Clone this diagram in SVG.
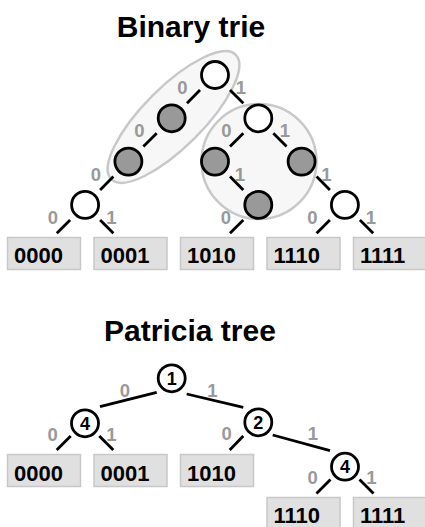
<svg xmlns="http://www.w3.org/2000/svg" width="425" height="527" viewBox="0 0 425 527">
<style>
.title{font-family:"Liberation Sans",Arial,sans-serif;font-weight:bold;font-size:30px;fill:#000;text-anchor:middle}
.lbl{font-family:"Liberation Sans",Arial,sans-serif;font-weight:bold;font-size:18.5px;fill:#999;text-anchor:middle}
.leaf rect{fill:#e0e0e0;stroke:#c8c8c8;stroke-width:1.5}
.leaf text{font-family:"Liberation Sans",Arial,sans-serif;font-weight:bold;font-size:22px;fill:#000}
.n{fill:#fff;stroke:#000;stroke-width:2.8}
.g{fill:#999;stroke:#000;stroke-width:2.8}
.num{font-family:"Liberation Sans",Arial,sans-serif;font-weight:bold;font-size:18px;fill:#000;text-anchor:middle}
.hl{fill:#f7f7f7;stroke:#c8c8c8;stroke-width:2.5}
#edges line{stroke:#000;stroke-width:2.8}
</style>
<rect width="425" height="527" fill="#fff"/>
<text class="title" x="191" y="37">Binary trie</text>
<text class="title" x="190" y="341">Patricia tree</text>

<!-- highlight regions -->
<ellipse class="hl" cx="173.5" cy="117" rx="88" ry="30" transform="rotate(-45 173.5 117)"/>
<circle class="hl" cx="259" cy="161.5" r="57.5"/>

<g id="edges">
<!-- binary trie -->
<line x1="200" y1="90" x2="187" y2="103.3"/>
<line x1="230" y1="90" x2="243.3" y2="103.3"/>
<line x1="156.7" y1="133.3" x2="143.4" y2="146.6"/>
<line x1="243.3" y1="133.3" x2="230" y2="146.6"/>
<line x1="273.3" y1="133.3" x2="286.6" y2="146.6"/>
<line x1="113.4" y1="176.6" x2="100.1" y2="189.9"/>
<line x1="230" y1="176.6" x2="243.3" y2="189.9"/>
<line x1="316.6" y1="176.6" x2="329.9" y2="189.9"/>
<line x1="70.1" y1="219.9" x2="56.8" y2="233.2"/>
<line x1="100.1" y1="219.9" x2="113.4" y2="233.2"/>
<line x1="243.3" y1="219.9" x2="230" y2="233.2"/>
<line x1="329.9" y1="219.9" x2="316.6" y2="233.2"/>
<line x1="359.9" y1="219.9" x2="373.2" y2="233.2"/>
<!-- patricia -->
<line x1="156.7" y1="392.3" x2="100" y2="406.7"/>
<line x1="186.7" y1="394" x2="243.3" y2="407.3"/>
<line x1="70.7" y1="436" x2="56.7" y2="450"/>
<line x1="99.3" y1="436" x2="113.3" y2="450"/>
<line x1="243.3" y1="436" x2="229.7" y2="450"/>
<line x1="272.7" y1="435" x2="330" y2="450.7"/>
<line x1="330.5" y1="479.5" x2="316.5" y2="493.5"/>
<line x1="359.5" y1="479.5" x2="373.5" y2="493.5"/>
</g>

<g id="edge-labels">
<text class="lbl" x="182.5" y="94">0</text>
<text class="lbl" x="241" y="94">1</text>
<text class="lbl" x="139.5" y="137">0</text>
<text class="lbl" x="226.5" y="137">0</text>
<text class="lbl" x="285" y="137">1</text>
<text class="lbl" x="96" y="180.5">0</text>
<text class="lbl" x="240" y="180.5">1</text>
<text class="lbl" x="326.5" y="180.5">1</text>
<text class="lbl" x="53" y="223.5">0</text>
<text class="lbl" x="111.5" y="223.5">1</text>
<text class="lbl" x="226" y="223.5">0</text>
<text class="lbl" x="312.5" y="223.5">0</text>
<text class="lbl" x="371" y="223.5">1</text>
<text class="lbl" x="125" y="396.5">0</text>
<text class="lbl" x="212.5" y="396.5">1</text>
<text class="lbl" x="52.7" y="440.5">0</text>
<text class="lbl" x="111.5" y="440.5">1</text>
<text class="lbl" x="226.7" y="439.5">0</text>
<text class="lbl" x="313" y="439.5">1</text>
<text class="lbl" x="312.7" y="483.5">0</text>
<text class="lbl" x="371.5" y="483.5">1</text>
</g>

<!-- binary trie nodes -->
<g id="b-root"><circle class="n" cx="215" cy="75" r="13.5"/></g>
<g id="b-0"><circle class="g" cx="171.7" cy="118.3" r="13.5"/></g>
<g id="b-1"><circle class="n" cx="258.3" cy="118.3" r="13.5"/></g>
<g id="b-00"><circle class="g" cx="128.4" cy="161.6" r="13.5"/></g>
<g id="b-10"><circle class="g" cx="215" cy="161.6" r="13.5"/></g>
<g id="b-11"><circle class="g" cx="301.6" cy="161.6" r="13.5"/></g>
<g id="b-000"><circle class="n" cx="85.1" cy="204.9" r="13.5"/></g>
<g id="b-101"><circle class="g" cx="258.3" cy="204.9" r="13.5"/></g>
<g id="b-111"><circle class="n" cx="344.9" cy="204.9" r="13.5"/></g>

<g id="b-leaf-0000" class="leaf"><rect x="7.5" y="237.5" width="73" height="32"/><text x="14" y="263">0000</text></g>
<g id="b-leaf-0001" class="leaf"><rect x="94" y="237.5" width="73" height="32"/><text x="100.5" y="263">0001</text></g>
<g id="b-leaf-1010" class="leaf"><rect x="180.5" y="237.5" width="73" height="32"/><text x="187" y="263">1010</text></g>
<g id="b-leaf-1110" class="leaf"><rect x="267" y="237.5" width="73" height="32"/><text x="273.5" y="263">1110</text></g>
<g id="b-leaf-1111" class="leaf"><rect x="353.5" y="237.5" width="73" height="32"/><text x="360" y="263">1111</text></g>

<!-- patricia nodes -->
<g id="p-root"><circle class="n" cx="171.7" cy="378.3" r="13.5"/><text class="num" x="171.7" y="384.8">1</text></g>
<g id="p-4a"><circle class="n" cx="85" cy="423.3" r="13.5"/><text class="num" x="85" y="429.8">4</text></g>
<g id="p-2"><circle class="n" cx="258.3" cy="422.3" r="13.5"/><text class="num" x="258.3" y="428.8">2</text></g>
<g id="p-4b"><circle class="n" cx="345" cy="466.7" r="13.5"/><text class="num" x="345" y="473.2">4</text></g>

<g id="p-leaf-0000" class="leaf"><rect x="7.5" y="454.5" width="73" height="32"/><text x="14" y="480.5">0000</text></g>
<g id="p-leaf-0001" class="leaf"><rect x="94" y="454.5" width="73" height="32"/><text x="100.5" y="480.5">0001</text></g>
<g id="p-leaf-1010" class="leaf"><rect x="180.5" y="454.5" width="73" height="32"/><text x="187" y="480.5">1010</text></g>
<g id="p-leaf-1110" class="leaf"><rect x="267" y="497.5" width="73" height="32"/><text x="273.5" y="523">1110</text></g>
<g id="p-leaf-1111" class="leaf"><rect x="353.5" y="497.5" width="73" height="32"/><text x="360" y="523">1111</text></g>
</svg>
